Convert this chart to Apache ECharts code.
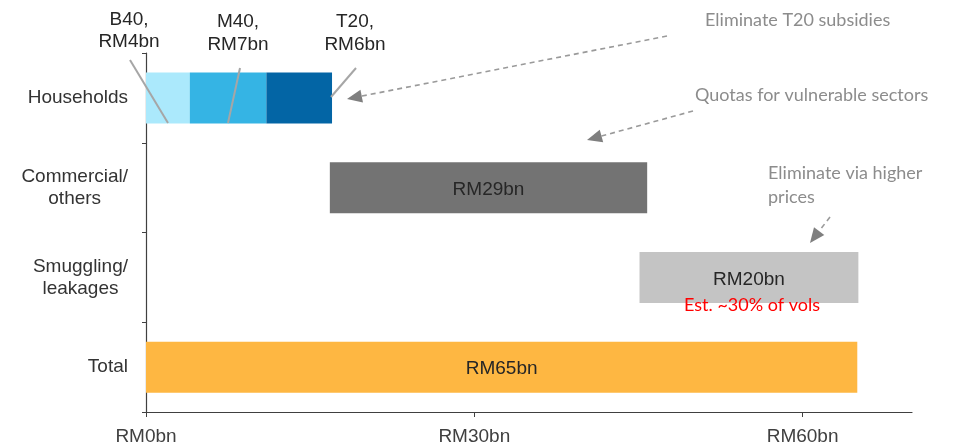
<!DOCTYPE html>
<html>
<head>
<meta charset="utf-8">
<title>Fuel subsidy breakdown</title>
<script src="https://cdn.jsdelivr.net/npm/echarts@6/dist/echarts.min.js"></script>
<style>
  html, body { margin: 0; padding: 0; background: #fff; }
  #chart { width: 957px; height: 448px; }
</style>
</head>
<body>
<div id="chart"></div>
<script>
// Rows, top to bottom
const categories = ['Households', 'Commercial/\nothers', 'Smuggling/\nleakages', 'Total'];

// Invisible lead-in so each block starts where the previous one ends
const offsets = [0, 16.8, 45.1, 0];

// Subsidy by segment, RM bn
const b40Values = [4, '-', '-', '-'];
const m40Values = [7, '-', '-', '-'];
const t20Values = [6, '-', '-', '-'];
const commercialValues = ['-', 29, '-', '-'];
const smugglingValues = ['-', '-', 20, '-'];
const totalValues = ['-', '-', '-', 65];

// Value axis ticks
const xTicks = [0, 30, 60];

const ARIAL = '"Liberation Sans", Arial, sans-serif';
const NOTE = 'Lato, "Open Sans", sans-serif';

const chart = echarts.init(document.getElementById('chart'), null, { renderer: 'canvas' });

function barSeries(name, data, color, withLabel) {
  return {
    name: name,
    type: 'bar',
    stack: 'all',
    data: data,
    barWidth: 51,
    itemStyle: { color: color },
    label: {
      show: withLabel,
      position: 'inside',
      offset: [0, 2],
      formatter: 'RM{c}bn',
      color: '#262626',
      fontSize: 19,
      fontFamily: ARIAL
    },
    emphasis: { disabled: true }
  };
}

// Dashed call-out with a filled head at (x2, y2)
function arrow(x1, y1, x2, y2) {
  const dx = x2 - x1, dy = y2 - y1;
  const len = Math.sqrt(dx * dx + dy * dy);
  const ux = dx / len, uy = dy / len;
  const head = 15, half = 6.5;
  const bx = x2 - ux * head, by = y2 - uy * head;
  return [
    {
      type: 'line',
      shape: { x1: x1, y1: y1, x2: bx, y2: by },
      style: { stroke: '#9a9a9a', lineWidth: 1.6, lineDash: [5, 4] }
    },
    {
      type: 'polygon',
      shape: { points: [[x2, y2], [bx - uy * half, by + ux * half], [bx + uy * half, by - ux * half]] },
      style: { fill: '#7f7f7f' }
    }
  ];
}

function txt(x, y, s, opts) {
  return {
    type: 'text',
    x: x,
    y: y,
    z: 100,
    style: Object.assign({
      text: s,
      fill: '#262626',
      font: '19px ' + ARIAL,
      textAlign: 'center',
      textVerticalAlign: 'middle'
    }, opts || {})
  };
}

function leader(x1, y1, x2, y2) {
  return {
    type: 'line',
    z: 100,
    shape: { x1: x1, y1: y1, x2: x2, y2: y2 },
    style: { stroke: '#a6a6a6', lineWidth: 2 }
  };
}

const noteStyle = { fill: '#8c8c8c', font: '18px ' + NOTE, textAlign: 'left' };

const graphics = [].concat(
  // segment captions above the household bar
  [
    txt(129, 20, 'B40,'), txt(129, 42, 'RM4bn'),
    txt(238, 22, 'M40,'), txt(238, 45, 'RM7bn'),
    txt(355, 22, 'T20,'), txt(355, 45, 'RM6bn'),
    leader(130, 60, 168, 123),
    leader(240, 68, 228, 123),
    leader(356, 68, 331, 97)
  ],
  // policy notes
  [
    txt(705, 20, 'Eliminate T20 subsidies', noteStyle),
    txt(695, 95, 'Quotas for vulnerable sectors', noteStyle),
    txt(768, 173, 'Eliminate via higher', noteStyle),
    txt(768, 197, 'prices', noteStyle),
    txt(752, 305, 'Est. ~30% of vols', { fill: '#ff0000', font: '18px ' + NOTE })
  ],
  arrow(667, 36, 347, 99),
  arrow(693, 111, 587, 140),
  arrow(830, 217, 810, 243)
);

chart.setOption({
  animation: false,
  backgroundColor: '#ffffff',
  grid: { left: 146, right: 45, top: 53, bottom: 36, containLabel: false },
  xAxis: {
    type: 'value',
    min: 0,
    max: 70,
    interval: 30,
    axisLine: { show: true, lineStyle: { color: '#404040', width: 1.2 } },
    axisTick: { show: true, length: 5, customValues: xTicks, lineStyle: { color: '#404040' } },
    axisLabel: {
      customValues: xTicks,
      formatter: 'RM{value}bn',
      color: '#404040',
      fontSize: 19,
      fontFamily: ARIAL,
      margin: 15
    },
    splitLine: { show: false }
  },
  yAxis: {
    type: 'category',
    inverse: true,
    data: categories,
    axisLine: { show: true, lineStyle: { color: '#404040', width: 1.2 } },
    axisTick: { show: true, length: 4, lineStyle: { color: '#404040' } },
    axisLabel: {
      margin: 18,
      align: 'right',
      formatter: function (v) {
        return v.split('\n').map(function (s) { return '{c|' + s + '}'; }).join('\n');
      },
      rich: {
        c: { align: 'center', fontSize: 19, fontFamily: ARIAL, color: '#333333', lineHeight: 22 }
      }
    }
  },
  series: [
    {
      name: 'offset',
      type: 'bar',
      stack: 'all',
      data: offsets,
      barWidth: 51,
      itemStyle: { color: 'transparent' },
      emphasis: { disabled: true },
      silent: true
    },
    barSeries('B40', b40Values, '#abe9fc', false),
    barSeries('M40', m40Values, '#35b4e4', false),
    barSeries('T20', t20Values, '#0365a5', false),
    barSeries('Commercial/others', commercialValues, '#737373', true),
    barSeries('Smuggling/leakages', smugglingValues, '#c4c4c4', true),
    barSeries('Total', totalValues, '#feb742', true)
  ],
  graphic: graphics
});
</script>
</body>
</html>
